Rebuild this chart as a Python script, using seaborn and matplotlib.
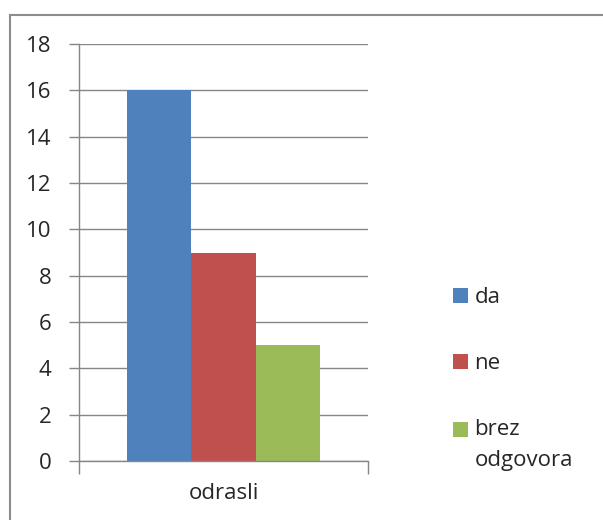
import pandas as pd
import matplotlib.pyplot as plt
import seaborn as sns
from matplotlib.patches import Rectangle

# data
category = ["odrasli"]
answers = ["da", "ne", "brez\nodgovora"]
counts = [16, 9, 5]
colors = ["#4F81BD", "#C0504D", "#9BBB59"]
yticks = [0, 2, 4, 6, 8, 10, 12, 14, 16, 18]

df = pd.DataFrame({
    "group": category * len(answers),
    "answer": answers,
    "count": counts,
})

sns.set_style("white")
plt.rcParams["font.family"] = ["Open Sans", "DejaVu Sans"]
fs = 16

fig = plt.figure(figsize=(6.03, 5.20), dpi=100)
ax = fig.add_axes([79 / 603, 1 - 461 / 520, (368 - 79) / 603, (461 - 44) / 520])

sns.barplot(data=df, x="group", y="count", hue="answer",
            palette=colors, width=0.667, saturation=1, ax=ax,
            linewidth=0, legend=True)

grid_c = "#868686"
ax.set_ylim(0, 18)
ax.set_xlim(-0.5, 0.5)
ax.set_yticks(yticks)
ax.yaxis.grid(True, color=grid_c, linewidth=1)
ax.set_axisbelow(True)
ax.set_xlabel("")
ax.set_ylabel("")

for s in ["top", "right"]:
    ax.spines[s].set_visible(False)
for s in ["left", "bottom"]:
    ax.spines[s].set_color(grid_c)
    ax.spines[s].set_linewidth(1)

ax.tick_params(axis="y", direction="out", length=7, width=1, color=grid_c,
               pad=13, labelsize=fs, left=True)
ax.set_xticks([0])
ax.set_xticklabels(category)
ax.set_xticks([-0.5, 0.5], minor=True)
ax.tick_params(axis="x", which="major", length=0, pad=16, labelsize=fs)
ax.tick_params(axis="x", which="minor", direction="out", length=9,
               width=1, color=grid_c, bottom=True)

ax.get_legend().remove()
handles, labels = ax.get_legend_handles_labels()
leg = fig.legend(handles, labels, loc="upper left",
                 bbox_to_anchor=(453 / 603, 1 - 287 / 520),
                 frameon=False, fontsize=fs, borderpad=0, borderaxespad=0,
                 handlelength=0.68, handleheight=0.68, handletextpad=0.28,
                 labelspacing=2.03)
for t in leg.get_texts():
    t.set_linespacing(1.62)
# Excel puts the swatch next to the first line of a wrapped label
h3 = leg.legend_handles[2]
h3.set_y(h3.get_y() + 11.5)

# outer chart border
fig.patches.append(Rectangle((10 / 603, -0.05), 1.2, 1 - 15 / 520 + 0.05,
                             transform=fig.transFigure, fill=False,
                             edgecolor="#8C8C8C", linewidth=1.5))

fig.savefig("out.png", dpi=100)
